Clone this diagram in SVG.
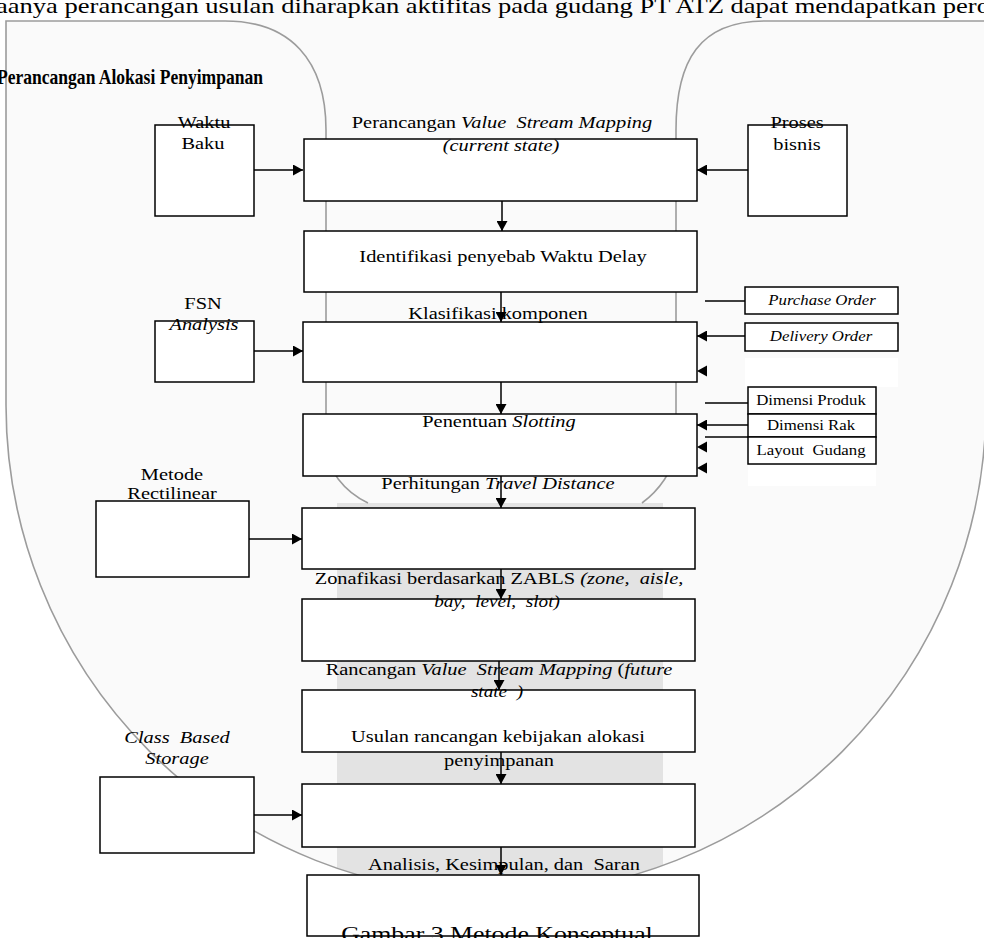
<svg xmlns="http://www.w3.org/2000/svg" width="984" height="938" viewBox="0 0 984 938">
<style>
.t{font-family:"Liberation Serif","Times New Roman",serif;font-size:17px;fill:#000;white-space:pre;text-anchor:middle}
.s{font-size:14px}
.i{font-style:italic}
.box{fill:#fff;stroke:#000;stroke-width:1.5}
.ln{fill:none;stroke:#000;stroke-width:1.5}
.wm{fill:none;stroke:#9c9c9c;stroke-width:1.6}
</style>
<defs>
<marker id="ah" markerUnits="userSpaceOnUse" markerWidth="11" markerHeight="11" refX="10" refY="5.5" orient="auto">
<path d="M0,0 L10,5.5 L0,11 Z" fill="#000"/>
</marker>
<clipPath id="shield"><path d="M6,21 H986 V405 A490,490 0 0 1 6,405 Z"/></clipPath>
</defs>
<rect width="984" height="938" fill="#fff"/>
<g id="watermark">
<path d="M6,21 H986 V405 A490,490 0 0 1 6,405 Z" fill="#fafafa"/>
<rect x="230" y="0" width="540" height="22" fill="#fafafa"/>
<rect x="337" y="503" width="326" height="420" fill="#e3e3e3" clip-path="url(#shield)"/>
<path class="wm" d="M6,405 V21 H225 C290,21 326,60 326,130 V445 C326,470 345,492 368,503"/>
<path class="wm" d="M986,21 H765 C700,21 676,60 676,130 V445 C676,470 657,492 642,503"/>
<path class="wm" d="M6,405 A490,490 0 0 0 986,405"/>
</g>
<text x="-4" y="12.5" textLength="994" lengthAdjust="spacingAndGlyphs" style="font-family:'Liberation Serif','Times New Roman',serif;font-size:21px">aanya perancangan usulan diharapkan aktifitas pada gudang PT ATZ dapat mendapatkan pero</text>
<text x="-3" y="84" textLength="266" lengthAdjust="spacingAndGlyphs" style="font-family:'Liberation Serif','Times New Roman',serif;font-size:21px;font-weight:bold">Perancangan Alokasi Penyimpanan</text>
<g id="connectors">
<path class="ln" d="M254,170 H303" marker-end="url(#ah)"/>
<path class="ln" d="M748,170 H697" marker-end="url(#ah)"/>
<path class="ln" d="M502,201 V231" marker-end="url(#ah)"/>
<path class="ln" d="M501,292 V322" marker-end="url(#ah)"/>
<path class="ln" d="M254,351 H303" marker-end="url(#ah)"/>
<path class="ln" d="M705,301 H745"/>
<path class="ln" d="M745,336 H697" marker-end="url(#ah)"/>
<path d="M697,371 L707,365.5 L707,376.5 Z" fill="#000"/>
<path class="ln" d="M501,382 V414" marker-end="url(#ah)"/>
<path class="ln" d="M705,403 H748"/>
<path class="ln" d="M748,425 H697" marker-end="url(#ah)"/>
<path class="ln" d="M705,437 H748"/>
<path d="M697,447 L707,441.5 L707,452.5 Z" fill="#000"/>
<path d="M697,468 L707,462.5 L707,473.5 Z" fill="#000"/>
<path class="ln" d="M501,476 V508" marker-end="url(#ah)"/>
<path class="ln" d="M249,539 H302" marker-end="url(#ah)"/>
<path class="ln" d="M501,569 V599" marker-end="url(#ah)"/>
<path class="ln" d="M499,661 V690" marker-end="url(#ah)"/>
<path class="ln" d="M501,752 V784" marker-end="url(#ah)"/>
<path class="ln" d="M254,815 H302" marker-end="url(#ah)"/>
<path class="ln" d="M501,847 V875" marker-end="url(#ah)"/>
</g>
<g id="waktu-baku">
<rect class="box" x="155" y="125" width="99" height="91"/>
<text class="t" transform="translate(204 128) scale(1.2 1)">Waktu</text>
<text class="t" transform="translate(203 149) scale(1.2 1)">Baku</text>
</g>
<g id="proses-bisnis">
<rect class="box" x="748" y="125" width="99" height="91"/>
<text class="t" transform="translate(797 128) scale(1.2 1)">Proses</text>
<text class="t" transform="translate(797 150) scale(1.2 1)">bisnis</text>
</g>
<g id="vsm-current">
<rect class="box" x="304" y="139" width="393" height="62"/>
<text class="t" transform="translate(502 128) scale(1.2 1)">Perancangan <tspan class="i">Value  Stream Mapping</tspan></text>
<text class="t i" transform="translate(501 151) scale(1.2 1)">(current state)</text>
</g>
<g id="identifikasi">
<rect class="box" x="304" y="231" width="393" height="61"/>
<text class="t" transform="translate(503 262) scale(1.2 1)">Identifikasi penyebab Waktu Delay</text>
</g>
<g id="fsn">
<rect class="box" x="155" y="321" width="99" height="61"/>
<text class="t" transform="translate(203 309) scale(1.2 1)">FSN</text>
<text class="t i" transform="translate(204 330) scale(1.2 1)">Analysis</text>
</g>
<g id="klasifikasi">
<rect class="box" x="303" y="322" width="394" height="60"/>
<text class="t" transform="translate(498 319) scale(1.2 1)">Klasifikasi komponen</text>
</g>
<g id="purchase-order">
<rect class="box" x="745" y="287" width="153" height="27"/>
<text class="t s i" transform="translate(822 305) scale(1.2 1)">Purchase Order</text>
</g>
<g id="delivery-order">
<rect class="box" x="745" y="323" width="153" height="28"/>
<text class="t s i" transform="translate(821 341) scale(1.2 1)">Delivery Order</text>
</g>
<rect x="745" y="358" width="153" height="29" fill="#fff"/>
<g id="dimensi-produk">
<rect class="box" x="748" y="387" width="128" height="27"/>
<text class="t s" transform="translate(811 405) scale(1.2 1)">Dimensi Produk</text>
</g>
<g id="dimensi-rak">
<rect class="box" x="748" y="414" width="128" height="23"/>
<text class="t s" transform="translate(811 430) scale(1.2 1)">Dimensi Rak</text>
</g>
<g id="layout-gudang">
<rect class="box" x="748" y="437" width="128" height="27"/>
<text class="t s" transform="translate(811 455) scale(1.2 1)">Layout  Gudang</text>
</g>
<rect x="748" y="465" width="128" height="21" fill="#fff"/>
<g id="slotting">
<rect class="box" x="303" y="414" width="394" height="62"/>
<text class="t" transform="translate(499 427) scale(1.2 1)">Penentuan <tspan class="i">Slotting</tspan></text>
</g>
<g id="metode-rectilinear">
<rect class="box" x="96" y="501" width="153" height="76"/>
<text class="t" transform="translate(172 480) scale(1.2 1)">Metode</text>
<text class="t" transform="translate(172 499) scale(1.2 1)">Rectilinear</text>
</g>
<g id="travel-distance">
<rect class="box" x="302" y="508" width="393" height="61"/>
<text class="t" transform="translate(498 489) scale(1.2 1)">Perhitungan <tspan class="i">Travel Distance</tspan></text>
</g>
<g id="zonafikasi">
<rect class="box" x="302" y="599" width="393" height="62"/>
<text class="t" transform="translate(499 584) scale(1.2 1)">Zonafikasi berdasarkan ZABLS <tspan class="i">(zone,  aisle,</tspan></text>
<text class="t i" style="font-size:16px" transform="translate(497 607) scale(1.2 1)">bay,  level,  slot)</text>
</g>
<g id="vsm-future">
<rect class="box" x="302" y="690" width="393" height="62"/>
<text class="t" transform="translate(499 675) scale(1.2 1)">Rancangan <tspan class="i">Value  Stream Mapping</tspan> (<tspan class="i">future</tspan></text>
<text class="t i" style="font-size:16px" transform="translate(497 697) scale(1.2 1)">state  )</text>
<text class="t" transform="translate(498 742) scale(1.2 1)">Usulan rancangan kebijakan alokasi</text>
</g>
<g id="class-based">
<rect class="box" x="100" y="777" width="154" height="76"/>
<text class="t i" transform="translate(177 743) scale(1.2 1)">Class  Based</text>
<text class="t i" transform="translate(177 764) scale(1.2 1)">Storage</text>
</g>
<g id="alokasi">
<rect class="box" x="302" y="784" width="393" height="63"/>
<text class="t" transform="translate(499 766) scale(1.2 1)">penyimpanan</text>
</g>
<g id="analisis">
<rect class="box" x="307" y="875" width="392" height="61"/>
<text class="t" transform="translate(504 870) scale(1.2 1)">Analisis, Kesimpulan, dan  Saran</text>
<text class="t" style="font-size:21.5px" transform="translate(497 941) scale(1.2 1)">Gambar 3 Metode Konseptual</text>
</g>
</svg>
